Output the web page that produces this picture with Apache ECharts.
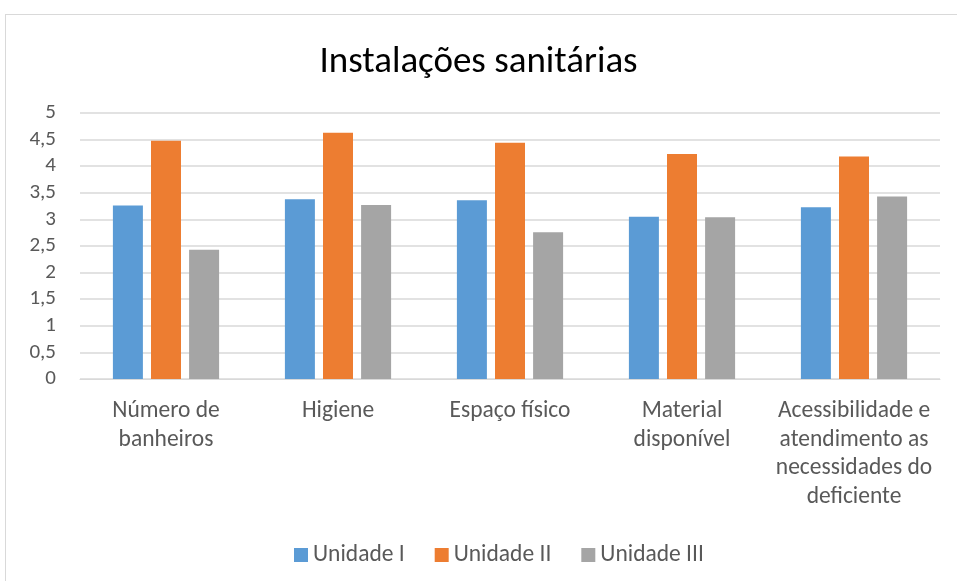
<!DOCTYPE html>
<html>
<head>
<meta charset="utf-8">
<script src="https://cdn.jsdelivr.net/npm/echarts@6/dist/echarts.min.js"></script>
<style>
  body { margin: 0; background: #fff; }
  #frame { position: absolute; left: 5px; top: 14px; width: 960px; height: 580px; border: 1px solid #d9d9d9; box-sizing: border-box; }
  #chart { position: absolute; left: 0; top: 0; width: 957px; height: 581px; }
</style>
</head>
<body>
<div id="frame"></div>
<div id="chart"></div>
<script>
// dados do gráfico
const categories = ['Número de\nbanheiros', 'Higiene', 'Espaço físico', 'Material\ndisponível', 'Acessibilidade e\natendimento as\nnecessidades do\ndeficiente'];
const unidadeI = [3.26, 3.38, 3.36, 3.05, 3.23];
const unidadeII = [4.48, 4.63, 4.44, 4.23, 4.18];
const unidadeIII = [2.43, 3.27, 2.76, 3.04, 3.43];
const seriesNames = ['Unidade I', 'Unidade II', 'Unidade III'];

const font = 'Carlito, "Open Sans", sans-serif';
const chart = echarts.init(document.getElementById('chart'));

const option = {
    animation: false,
    title: {
        text: 'Instalações sanitárias',
        left: 'center',
        top: 39,
        textStyle: { fontFamily: font, fontWeight: 'normal', fontSize: 37, color: '#000' }
    },
    legend: {
        top: 538,
        left: 289,
        itemWidth: 14,
        itemHeight: 14,
        itemGap: 30,
        icon: 'rect',
        textStyle: { fontFamily: font, fontSize: 23.5, color: '#595959' },
        data: seriesNames
    },
    grid: { left: 80, right: 17, top: 113, bottom: 202, containLabel: false },
    xAxis: {
        type: 'category',
        data: categories,
        axisLine: { lineStyle: { color: '#d9d9d9' } },
        axisTick: { show: false },
        axisLabel: {
            interval: 0,
            margin: 18,
            fontFamily: font,
            fontSize: 23.5,
            lineHeight: 28.5,
            color: '#595959'
        }
    },
    yAxis: {
        type: 'value',
        min: 0,
        max: 5,
        interval: 0.5,
        axisLine: { show: false },
        axisTick: { show: false },
        splitLine: { lineStyle: { color: '#d9d9d9', width: 1.5 } },
        axisLabel: {
            margin: 24,
            fontFamily: font,
            fontSize: 21,
            color: '#595959',
            formatter: v => String(v).replace('.', ',')
        }
    },
    series: [
        { name: seriesNames[0], type: 'bar', data: unidadeI, barWidth: 30, barGap: '27%', itemStyle: { color: '#5b9bd5' } },
        { name: seriesNames[1], type: 'bar', data: unidadeII, barWidth: 30, barGap: '27%', itemStyle: { color: '#ed7d31' } },
        { name: seriesNames[2], type: 'bar', data: unidadeIII, barWidth: 30, barGap: '27%', itemStyle: { color: '#a5a5a5' } }
    ]
};
chart.setOption(option);
</script>
</body>
</html>
